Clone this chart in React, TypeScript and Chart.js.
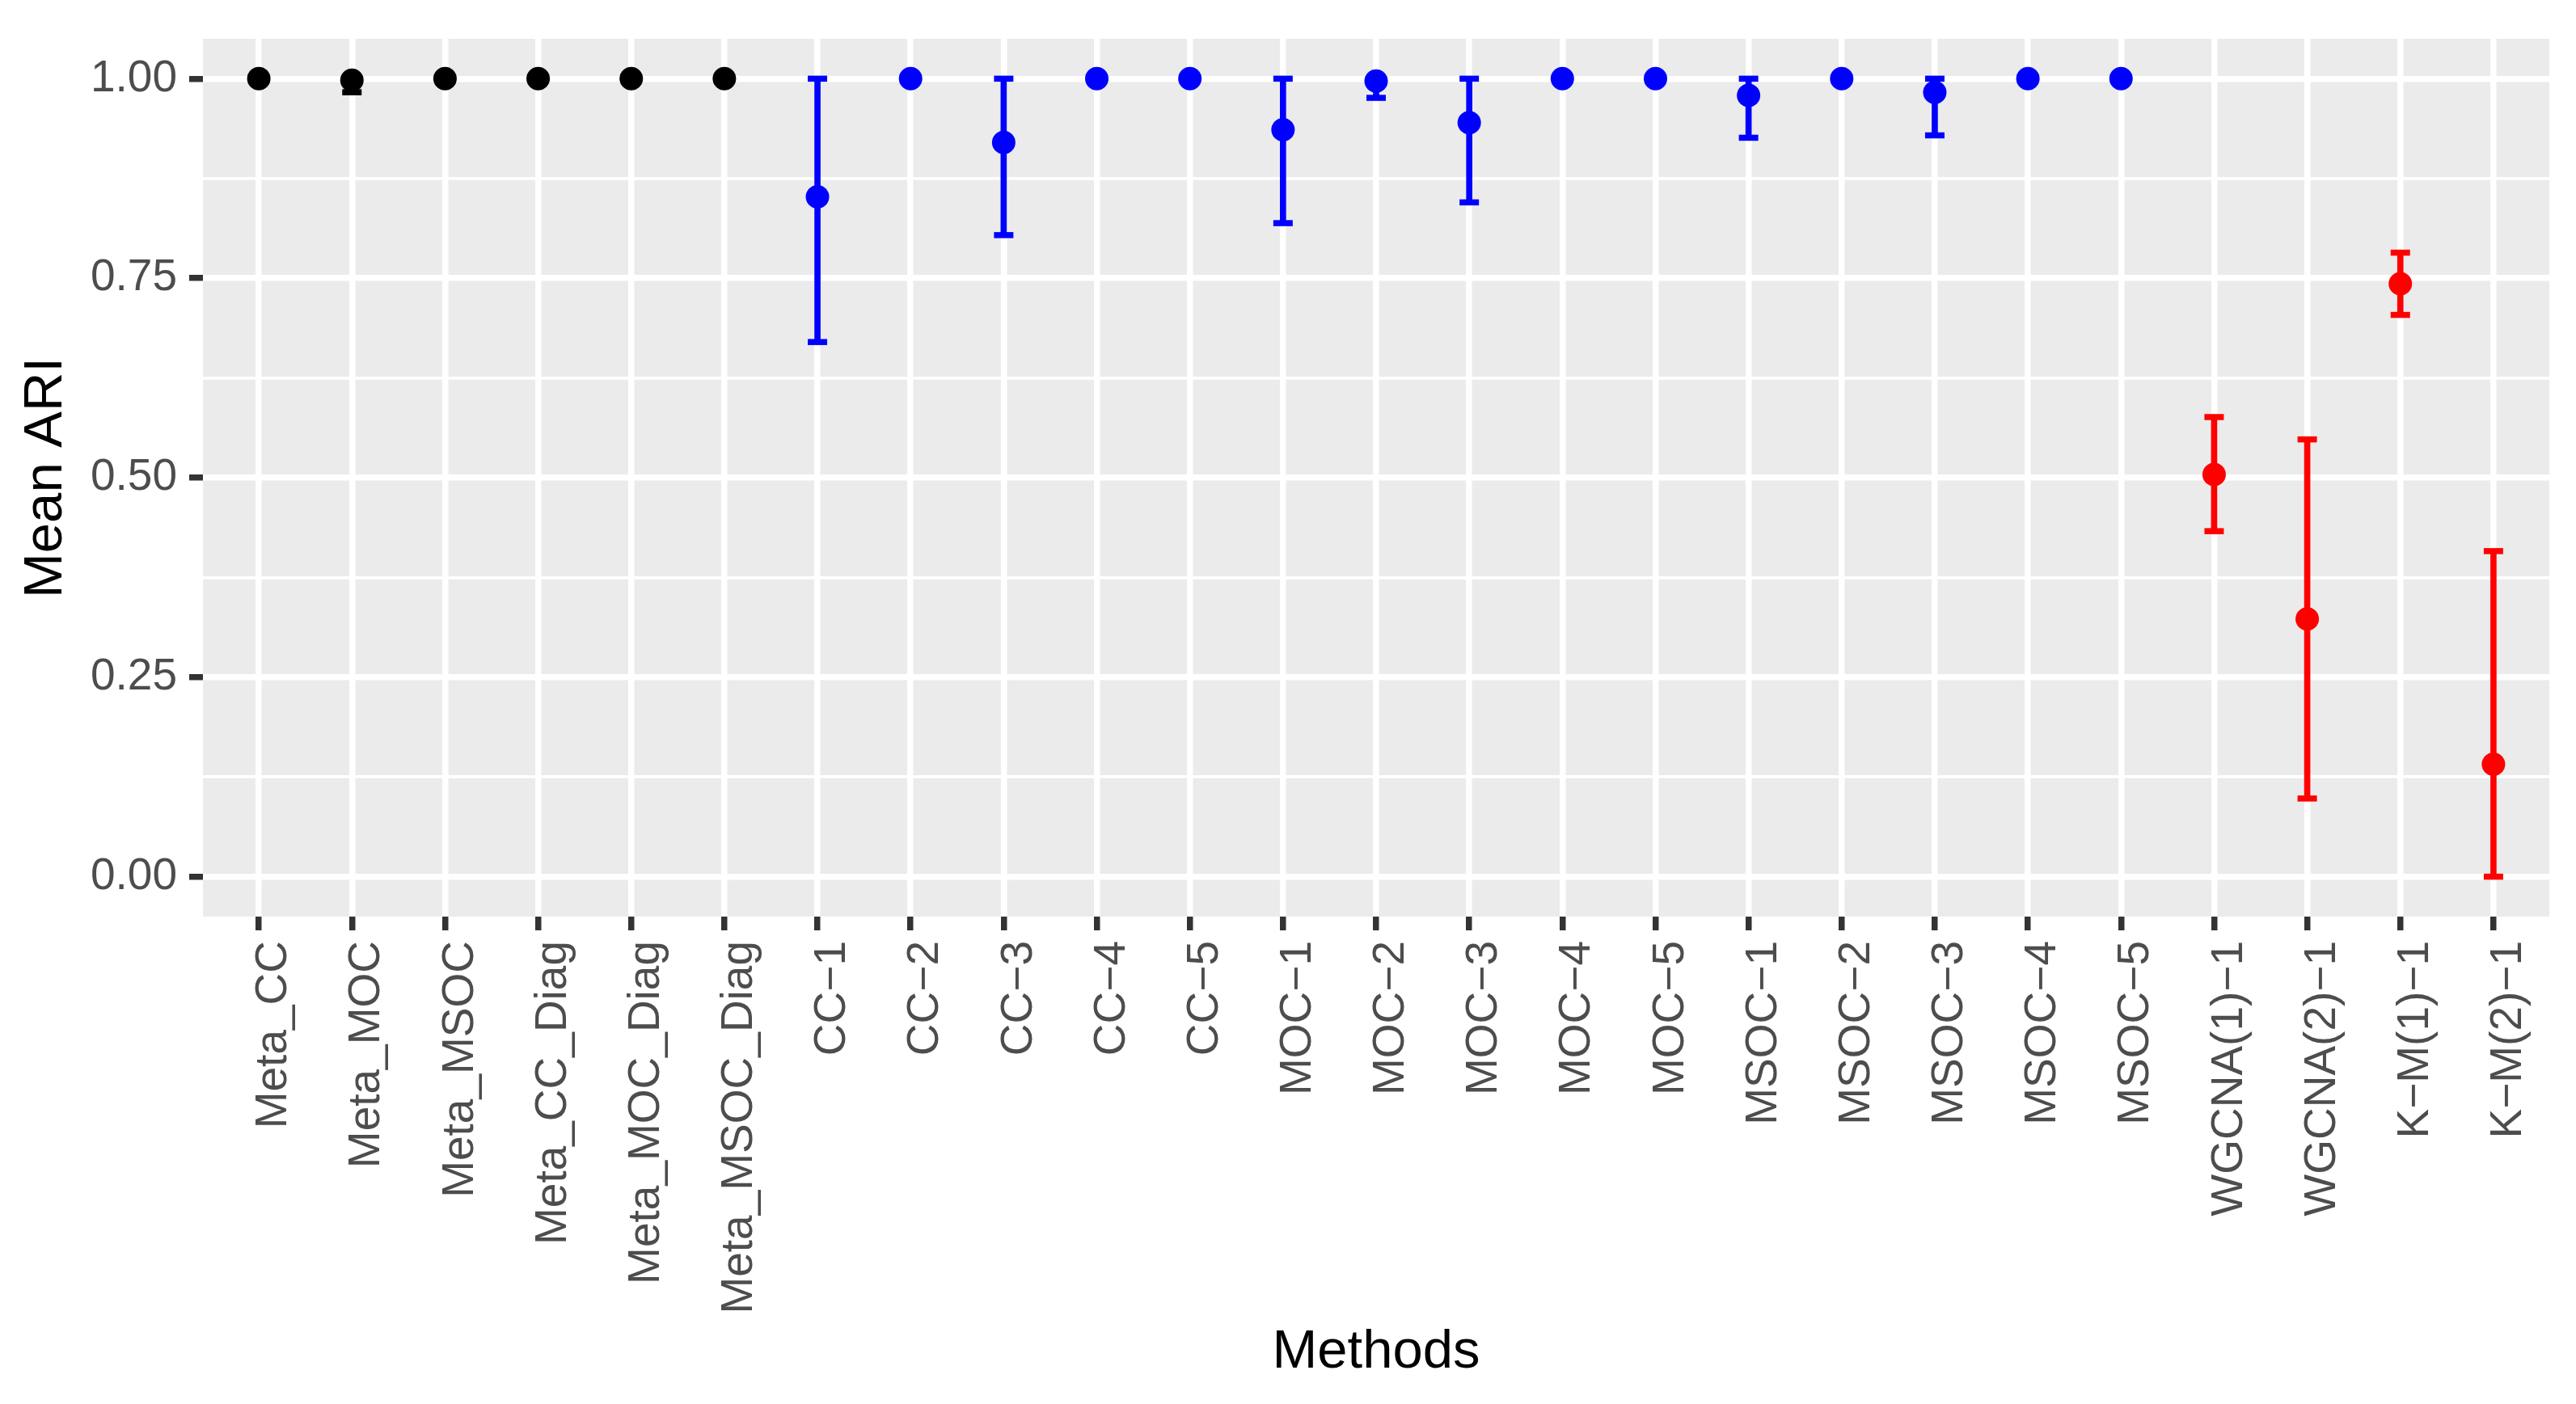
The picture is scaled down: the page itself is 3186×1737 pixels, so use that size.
import React, { useEffect, useRef } from 'react';
import { Chart, registerables } from 'chart.js';

Chart.register(...registerables);

// ---- data ----
const methods = [
  'Meta_CC', 'Meta_MOC', 'Meta_MSOC', 'Meta_CC_Diag', 'Meta_MOC_Diag', 'Meta_MSOC_Diag',
  'CC\u22121', 'CC\u22122', 'CC\u22123', 'CC\u22124', 'CC\u22125',
  'MOC\u22121', 'MOC\u22122', 'MOC\u22123', 'MOC\u22124', 'MOC\u22125',
  'MSOC\u22121', 'MSOC\u22122', 'MSOC\u22123', 'MSOC\u22124', 'MSOC\u22125',
  'WGCNA(1)\u22121', 'WGCNA(2)\u22121', 'K\u2212M(1)\u22121', 'K\u2212M(2)\u22121',
];

const meanARI = [
  1.0, 0.998, 1.0, 1.0, 1.0, 1.0,
  0.852, 1.0, 0.920, 1.0, 1.0,
  0.936, 0.997, 0.945, 1.0, 1.0,
  0.979, 1.0, 0.983, 1.0, 1.0,
  0.504, 0.323, 0.743, 0.141,
];

const lowerARI = [
  1.0, 0.983, 1.0, 1.0, 1.0, 1.0,
  0.670, 1.0, 0.804, 1.0, 1.0,
  0.819, 0.976, 0.845, 1.0, 1.0,
  0.926, 1.0, 0.929, 1.0, 1.0,
  0.433, 0.098, 0.704, 0.0,
];

const upperARI = [
  1.0, 1.0, 1.0, 1.0, 1.0, 1.0,
  1.0, 1.0, 1.0, 1.0, 1.0,
  1.0, 1.0, 1.0, 1.0, 1.0,
  1.0, 1.0, 1.0, 1.0, 1.0,
  0.576, 0.548, 0.782, 0.408,
];

const methodGroup = [
  'meta', 'meta', 'meta', 'meta', 'meta', 'meta',
  'single', 'single', 'single', 'single', 'single',
  'single', 'single', 'single', 'single', 'single',
  'single', 'single', 'single', 'single', 'single',
  'other', 'other', 'other', 'other',
];

const yMajorTicks = [0, 0.25, 0.5, 0.75, 1.0];

// ---- styling ----
const groupColors: Record<string, string> = {
  meta: '#000000',
  single: '#0000FF',
  other: '#FF0000',
};
const FONT = "'Liberation Sans', Arial, Helvetica, sans-serif";
const isMajor = (v: number) => yMajorTicks.some((t) => Math.abs(t - v) < 1e-6);

const panelBg = {
  id: 'panelBg',
  beforeDraw(chart: any) {
    const { ctx, chartArea } = chart;
    ctx.save();
    ctx.fillStyle = '#FFFFFF';
    ctx.fillRect(0, 0, chart.width, chart.height);
    ctx.fillStyle = '#EBEBEB';
    ctx.fillRect(chartArea.left, chartArea.top, chartArea.right - chartArea.left, chartArea.bottom - chartArea.top);
    ctx.restore();
  },
};

export default function App() {
  const canvasRef = useRef<HTMLCanvasElement | null>(null);

  useEffect(() => {
    document.body.style.margin = '0';
    const canvas = canvasRef.current;
    if (!canvas) return;
    const colors = methodGroup.map((g) => groupColors[g]);

    const chart = new Chart(canvas, {
      type: 'scatter',
      data: {
        datasets: [
          {
            type: 'bar',
            data: methods.map((_, i) => ({ x: i, y: [lowerARI[i], upperARI[i]] })) as any,
            backgroundColor: colors,
            borderWidth: 0,
            barThickness: 7,
            order: 2,
          } as any,
          {
            type: 'scatter',
            data: methods.map((_, i) => ({ x: i, y: lowerARI[i] })),
            pointStyle: 'line',
            pointRadius: 12,
            pointBorderWidth: 7.5,
            pointBorderColor: colors,
            borderColor: colors,
            showLine: false,
            order: 1,
          } as any,
          {
            type: 'scatter',
            data: methods.map((_, i) => ({ x: i, y: upperARI[i] })),
            pointStyle: 'line',
            pointRadius: 12,
            pointBorderWidth: 7.5,
            pointBorderColor: colors,
            borderColor: colors,
            showLine: false,
            order: 1,
          } as any,
          {
            type: 'scatter',
            data: methods.map((_, i) => ({ x: i, y: meanARI[i] })),
            pointStyle: 'circle',
            pointRadius: 14.5,
            pointBorderWidth: 0,
            pointBackgroundColor: colors,
            backgroundColor: colors,
            showLine: false,
            order: 0,
          } as any,
        ],
      },
      options: {
        responsive: false,
        animation: false,
        devicePixelRatio: 1,
        layout: { padding: { top: 43, right: 33, left: 0, bottom: 0 } },
        plugins: {
          legend: { display: false },
          tooltip: { enabled: false },
        },
        scales: {
          x: {
            type: 'linear',
            min: -0.6,
            max: 24.6,
            offset: false,
            afterFit: (s: any) => {
              s.height = 603;
            },
            border: { display: false },
            grid: {
              offset: false,
              color: '#FFFFFF',
              lineWidth: 7.5,
              drawTicks: true,
              tickLength: 17,
              tickColor: '#333333',
              tickWidth: 7.5,
            },
            ticks: {
              stepSize: 1,
              includeBounds: false,
              autoSkip: false,
              minRotation: 90,
              maxRotation: 90,
              labelOffset: 19,
              padding: 13,
              color: '#4D4D4D',
              font: { family: FONT, size: 55 },
              callback: (v: any) => methods[Math.round(Number(v))] ?? '',
            },
            title: {
              display: true,
              text: 'Methods',
              color: '#000000',
              font: { family: FONT, size: 67 },
              padding: { top: 0, bottom: 23 },
            },
          },
          y: {
            type: 'linear',
            min: -0.05,
            max: 1.05,
            offset: false,
            afterFit: (s: any) => {
              s.width = 251;
            },
            border: { display: false },
            grid: {
              offset: false,
              color: '#FFFFFF',
              lineWidth: (c: any) => (c.tick && isMajor(c.tick.value) ? 7.5 : 3.8),
              drawTicks: true,
              tickLength: 17,
              tickColor: (c: any) => (c.tick && isMajor(c.tick.value) ? '#333333' : 'rgba(0,0,0,0)'),
              tickWidth: 7.5,
            },
            ticks: {
              stepSize: 0.125,
              includeBounds: false,
              padding: 15,
              color: '#4D4D4D',
              font: { family: FONT, size: 55 },
              callback: (v: any) => (isMajor(Number(v)) ? Number(v).toFixed(2) : ''),
            },
            title: {
              display: true,
              text: 'Mean ARI',
              color: '#000000',
              font: { family: FONT, size: 67 },
              padding: { top: 17, bottom: 0 },
            },
          },
        },
      } as any,
      plugins: [panelBg],
    });

    return () => {
      chart.destroy();
    };
  }, []);

  return (
    <div style={{ width: 3186, height: 1737 }}>
      <canvas ref={canvasRef} width={3186} height={1737} style={{ display: 'block', width: 3186, height: 1737 }} />
    </div>
  );
}
